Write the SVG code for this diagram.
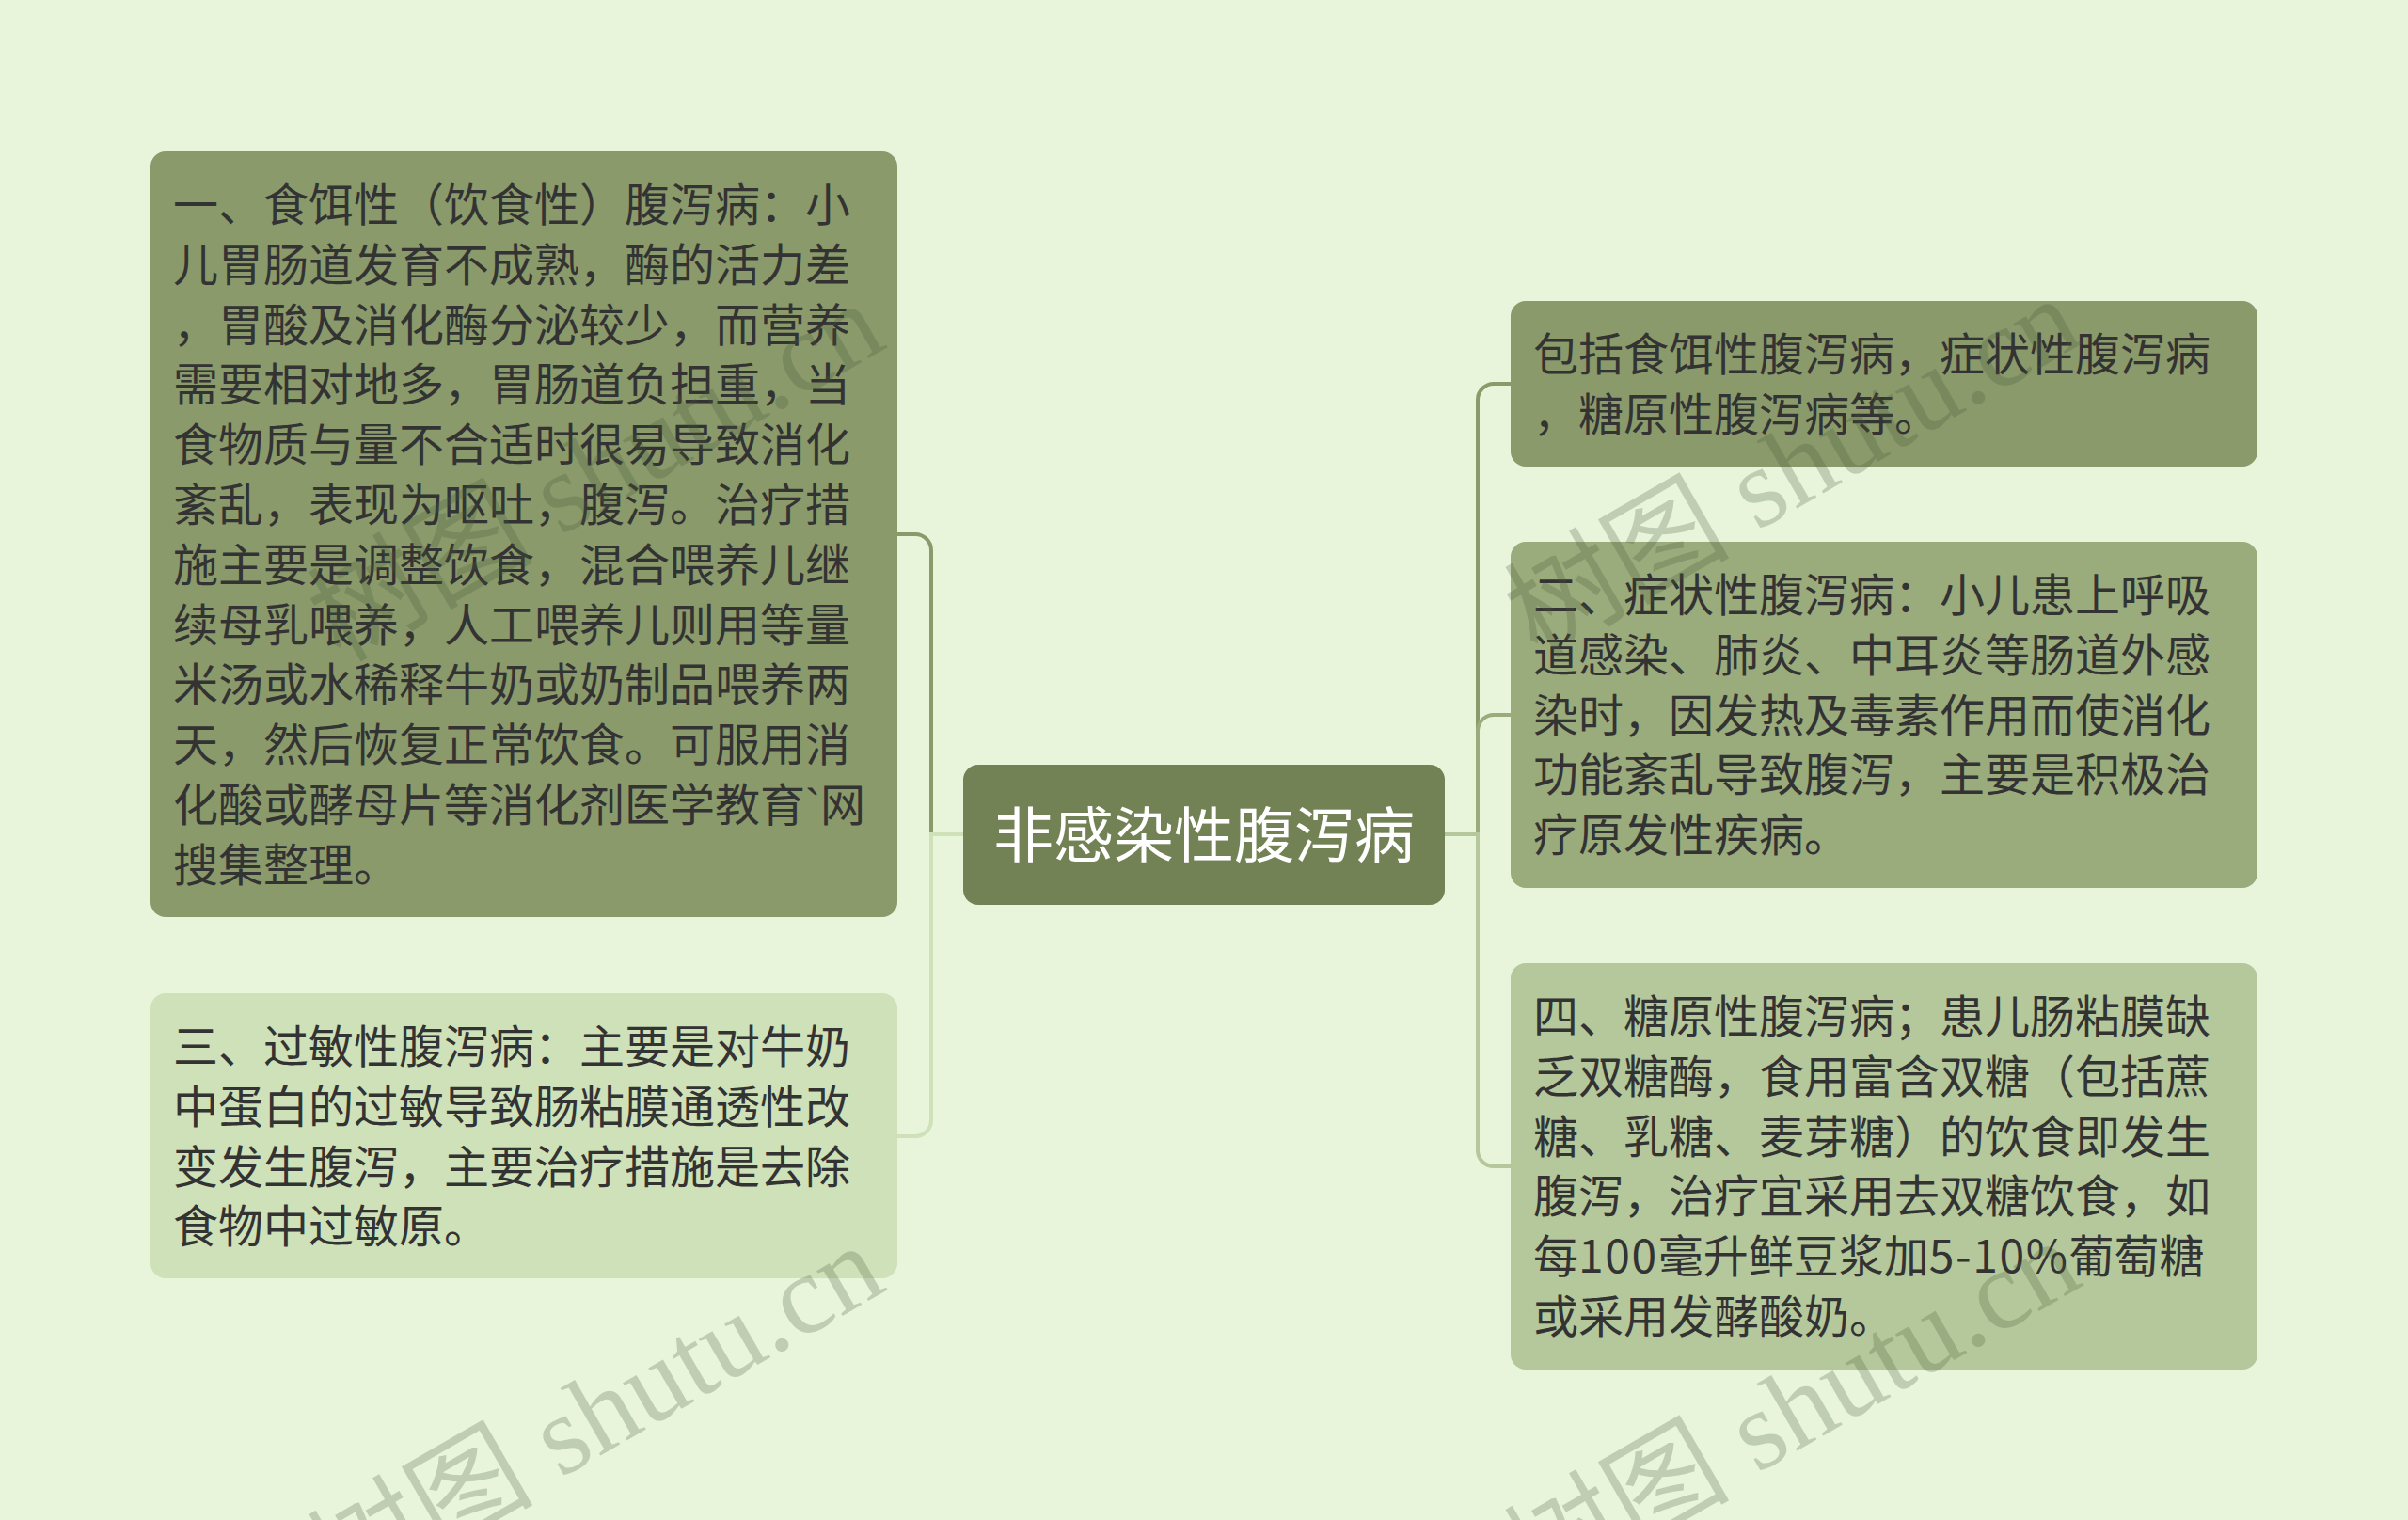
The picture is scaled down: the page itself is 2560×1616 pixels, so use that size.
<svg xmlns="http://www.w3.org/2000/svg" width="2560" height="1616" viewBox="0 0 2560 1616">
<style>
.t{font-family:"Noto Sans CJK SC","Noto Sans",sans-serif;font-size:48px;fill:#333333}
.c{font-family:"Noto Sans CJK SC","Noto Sans",sans-serif;font-size:64px;fill:#ffffff}
.w{font-family:"Liberation Serif","Noto Sans CJK SC",serif;font-size:120px;fill:#4a5a3a;opacity:0.25}
.e{fill:none;stroke-width:4}
.n{letter-spacing:1.6px}
.b{font-family:"Liberation Sans",sans-serif}
</style>
<rect x="0" y="0" width="2560" height="1616" fill="#e8f5db"/>
<g id="connectors">
<path class="e" stroke="#8a9a6b" d="M1024,887 H990 V585 A17,17 0 0 0 973,568 H954"/>
<path class="e" stroke="#cfe1b8" d="M1024,887 H990 V1191 A17,17 0 0 1 973,1208 H954"/>
<path class="e" stroke="#8a9a6b" d="M1536,887 H1571 V425 A17,17 0 0 1 1588,408 H1606"/>
<path class="e" stroke="#9aab7c" d="M1536,887 H1571 V777 A17,17 0 0 1 1588,760 H1606"/>
<path class="e" stroke="#b5c89b" d="M1536,887 H1571 V1223 A17,17 0 0 0 1588,1240 H1606"/>
</g>
<g id="center">
<rect x="1024" y="813" width="512" height="149" rx="16" fill="#728254"/>
<text class="c" x="1280" y="911" text-anchor="middle">非感染性腹泻病</text>
</g>
<g id="left1">
<rect x="160" y="161" width="794" height="814" rx="16" fill="#8a9a6b"/>
<text class="t">
<tspan x="184" y="235">一、食饵性（饮食性）腹泻病：小</tspan>
<tspan x="184" y="298.8">儿胃肠道发育不成熟，酶的活力差</tspan>
<tspan x="184" y="362.6">，胃酸及消化酶分泌较少，而营养</tspan>
<tspan x="184" y="426.4">需要相对地多，胃肠道负担重，当</tspan>
<tspan x="184" y="490.2">食物质与量不合适时很易导致消化</tspan>
<tspan x="184" y="554">紊乱，表现为呕吐，腹泻。治疗措</tspan>
<tspan x="184" y="617.8">施主要是调整饮食，混合喂养儿继</tspan>
<tspan x="184" y="681.6">续母乳喂养，人工喂养儿则用等量</tspan>
<tspan x="184" y="745.4">米汤或水稀释牛奶或奶制品喂养两</tspan>
<tspan x="184" y="809.2">天，然后恢复正常饮食。可服用消</tspan>
<tspan x="184" y="873">化酸或酵母片等消化剂医学教育<tspan class="b">`</tspan>网</tspan>
<tspan x="184" y="936.8">搜集整理。</tspan>
</text>
</g>
<g id="left2">
<rect x="160" y="1056" width="794" height="303" rx="16" fill="#cfe1b8"/>
<text class="t">
<tspan x="184" y="1130">三、过敏性腹泻病：主要是对牛奶</tspan>
<tspan x="184" y="1193.8">中蛋白的过敏导致肠粘膜通透性改</tspan>
<tspan x="184" y="1257.6">变发生腹泻，主要治疗措施是去除</tspan>
<tspan x="184" y="1321.4">食物中过敏原。</tspan>
</text>
</g>
<g id="right1">
<rect x="1606" y="320" width="794" height="176" rx="16" fill="#8a9a6b"/>
<text class="t">
<tspan x="1630" y="394">包括食饵性腹泻病，症状性腹泻病</tspan>
<tspan x="1630" y="457.8">，糖原性腹泻病等。</tspan>
</text>
</g>
<g id="right2">
<rect x="1606" y="576" width="794" height="368" rx="16" fill="#9aab7c"/>
<text class="t">
<tspan x="1630" y="650">二、症状性腹泻病：小儿患上呼吸</tspan>
<tspan x="1630" y="713.8">道感染、肺炎、中耳炎等肠道外感</tspan>
<tspan x="1630" y="777.6">染时，因发热及毒素作用而使消化</tspan>
<tspan x="1630" y="841.4">功能紊乱导致腹泻，主要是积极治</tspan>
<tspan x="1630" y="905.2">疗原发性疾病。</tspan>
</text>
</g>
<g id="right3">
<rect x="1606" y="1024" width="794" height="432" rx="16" fill="#b5c89b"/>
<text class="t">
<tspan x="1630" y="1098">四、糖原性腹泻病；患儿肠粘膜缺</tspan>
<tspan x="1630" y="1161.8">乏双糖酶，食用富含双糖（包括蔗</tspan>
<tspan x="1630" y="1225.6">糖、乳糖、麦芽糖）的饮食即发生</tspan>
<tspan x="1630" y="1289.4">腹泻，治疗宜采用去双糖饮食，如</tspan>
<tspan x="1630" y="1353.2">每<tspan class="n">100</tspan>毫升鲜豆浆加<tspan class="n">5-10%</tspan>葡萄糖</tspan>
<tspan x="1630" y="1417">或采用发酵酸奶。</tspan>
</text>
</g>
<g id="watermarks">
<text class="w" transform="translate(362,705) rotate(-30)">树图 shutu.cn</text>
<text class="w" transform="translate(1634,700) rotate(-30)">树图 shutu.cn</text>
<text class="w" transform="translate(362,1707) rotate(-30)">树图 shutu.cn</text>
<text class="w" transform="translate(1634,1702) rotate(-30)">树图 shutu.cn</text>
</g>
</svg>
